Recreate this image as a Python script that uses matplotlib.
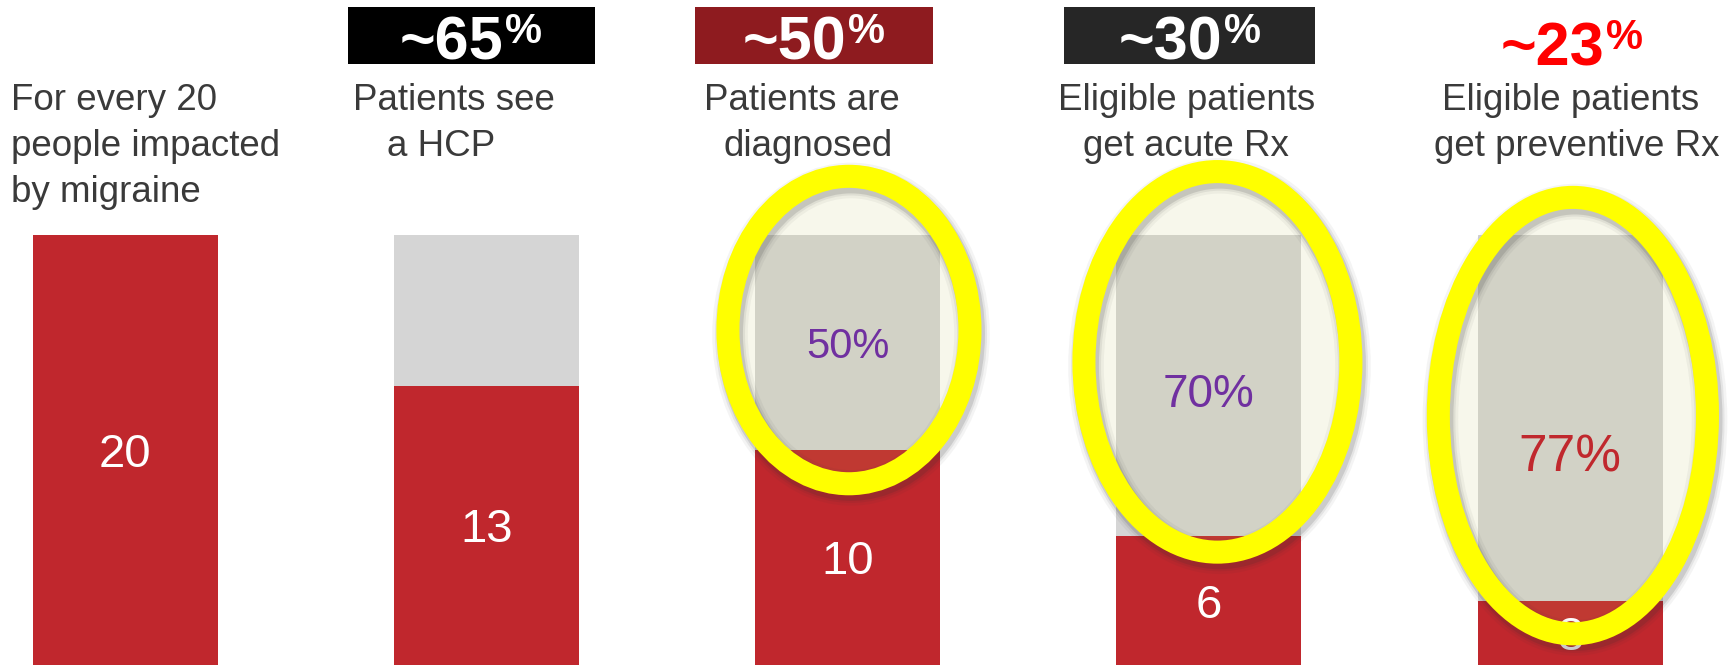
import matplotlib
matplotlib.use("Agg")
import matplotlib.pyplot as plt
import matplotlib.transforms as mtransforms
from matplotlib.patches import Ellipse, Rectangle
from matplotlib import font_manager

# ---------------- data ----------------
stages = [
    "For every 20\npeople impacted\nby migraine",
    "Patients see\na HCP",
    "Patients are\ndiagnosed",
    "Eligible patients\nget acute Rx",
    "Eligible patients\nget preventive Rx",
]
patients = [20, 13, 10, 6, 3]          # red segment (people out of 20)
total = 20                               # full bar height
share_of_total = [None, "~65%", "~50%", "~30%", "~23%"]
dropoff_pct = [None, None, "50%", "70%", "77%"]

# ---------------- styling / layout ----------------
W, H, DPI = 1729, 665, 100
RED = "#C0272D"
GRAY = "#D5D5D5"
TEXT = "#3A3A3A"
badge_bg = [None, "#000000", "#8E1B1F", "#262626", None]
badge_fg = [None, "white", "white", "white", "#FF0000"]
badge_cx = [None, 471, 814, 1190, 1572]
badge_box = [None, (348, 595), (695, 933), (1064, 1315), None]
badge_base = [None, 59, 59, 59, 65]
pct_color = [None, None, "#7030A0", "#7030A0", "#C0282D"]
pct_size = [None, None, 30, 33, 37]
pct_y = [None, None, 15.0, 12.8, 9.9]

# header lines: (x, ha) per line
header_pos = [
    [(11, "left"), (11, "left"), (11, "left")],
    [(353, "left"), (387, "left")],
    [(802, "center"), (808, "center")],
    [(1187, "center"), (1186, "center")],
    [(1571, "center"), (1577, "center")],
]
header_base = [110, 156, 202]

# highlight rings in data units: (x, y, width, height)
rings = [None, None, (2.004, 15.58, 0.670, 14.3), (3.024, 14.1, 0.739, 17.7), (4.008, 11.6, 0.745, 20.3)]

PX_PER_CAT = 361.25
FIRST_CENTER = 125
PX_PER_UNIT = 21.5
BAR_W = 185 / PX_PER_CAT

FONT = "Liberation Sans"
try:
    font_manager.findfont("Liberation Sans Narrow", fallback_to_default=False)
    BADGE_FONT = "Liberation Sans Narrow"
except Exception:
    BADGE_FONT = FONT

plt.rcParams["font.family"] = [FONT, "DejaVu Sans"]

fig = plt.figure(figsize=(W / DPI, H / DPI), dpi=DPI)
ax = fig.add_axes([0, 0, 1, 1])
ax.set_xlim(-FIRST_CENTER / PX_PER_CAT, (W - FIRST_CENTER) / PX_PER_CAT)
ax.set_ylim(0, H / PX_PER_UNIT)
ax.axis("off")

xs = list(range(len(stages)))
rest = [total - p for p in patients]

ax.bar(xs, patients, width=BAR_W, color=RED, zorder=1)
ax.bar(xs, rest, bottom=patients, width=BAR_W, color=GRAY, zorder=1)

# value labels inside the red segments
for x, p in zip(xs, patients):
    ax.text(x, p / 2, str(p), ha="center", va="center_baseline",
            fontsize=34, color="white", zorder=3)

# drop-off percentages in the gray segments
for x, lab in zip(xs, dropoff_pct):
    if lab is None:
        continue
    ax.text(x, pct_y[x], lab, ha="center", va="center_baseline",
            fontsize=pct_size[x], color=pct_color[x], zorder=3)

# yellow highlight rings with a soft shadow
for r in rings:
    if r is None:
        continue
    cx, cy, w, h = r
    ax.add_patch(Ellipse((cx, cy), w, h, facecolor=(0.76, 0.76, 0.36, 0.12),
                         edgecolor="none", zorder=2))
    off = mtransforms.ScaledTranslation(1.5 / 72, -3 / 72, fig.dpi_scale_trans)
    for lw_extra, a in [(9, 0.05), (5, 0.08), (2, 0.14)]:
        ax.add_patch(Ellipse((cx, cy), w, h, facecolor="none",
                             edgecolor=(0.2, 0.2, 0.2, a), linewidth=16.6 + lw_extra,
                             transform=ax.transData + off, zorder=4))
    ax.add_patch(Ellipse((cx, cy), w, h, facecolor="none", edgecolor="#FFFF00",
                         linewidth=16.6, zorder=5))

# headers (pixel positions from top-left)
pix = mtransforms.IdentityTransform()
for i, label in enumerate(stages):
    for j, line in enumerate(label.split("\n")):
        x, ha = header_pos[i][j]
        fig.text(x, H - header_base[j], line, transform=pix, ha=ha, va="baseline",
                 fontsize=26.5, color=TEXT)

# percentage badges
renderer = fig.canvas.get_renderer()
for i, lab in enumerate(share_of_total):
    if lab is None:
        continue
    if badge_box[i] is not None:
        x0, x1 = badge_box[i]
        fig.patches.append(Rectangle((x0, H - 64), x1 - x0, 57, transform=pix,
                                     facecolor=badge_bg[i], edgecolor="none", zorder=1))
    main, sup = lab[:-1], lab[-1]
    yb = H - badge_base[i]
    t1 = fig.text(0, yb, main, transform=pix, ha="left", va="baseline",
                  fontsize=44, weight="bold", color=badge_fg[i],
                  family=[BADGE_FONT, FONT], zorder=3)
    t2 = fig.text(0, yb + 16, sup, transform=pix, ha="left", va="baseline",
                  fontsize=30, weight="bold", color=badge_fg[i],
                  family=[BADGE_FONT, FONT], zorder=3)
    w1 = t1.get_window_extent(renderer).width
    w2 = t2.get_window_extent(renderer).width
    gap = 2
    start = badge_cx[i] - (w1 + gap + w2) / 2
    t1.set_x(start)
    t2.set_x(start + w1 + gap)

fig.savefig("out.png", dpi=DPI)
